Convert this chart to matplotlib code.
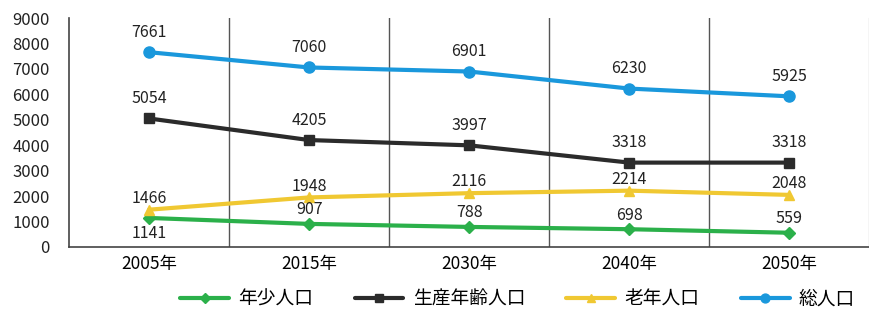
import matplotlib
matplotlib.use("Agg")
import matplotlib.pyplot as plt
from matplotlib.ticker import MultipleLocator

plt.rcParams['font.family'] = ['Noto Sans CJK JP', 'DejaVu Sans']

years = ["2005年", "2015年", "2030年", "2040年", "2050年"]
youth = [1141, 907, 788, 698, 559]
working = [5054, 4205, 3997, 3318, 3318]
elderly = [1466, 1948, 2116, 2214, 2048]
total = [7661, 7060, 6901, 6230, 5925]

names = ["年少人口", "生産年齢人口", "老年人口", "総人口"]
series = [youth, working, elderly, total]
colors = ["#2bb04a", "#2b2b2b", "#f0c832", "#1a98dc"]
markers = ["D", "s", "^", "o"]
msizes = [6, 7, 7, 8]

fig = plt.figure(figsize=(8.7, 3.13), dpi=100)
ax = fig.add_axes([0.0793, 0.211, 0.92, 0.731])

x = list(range(len(years)))
for name, vals, c, m, ms in zip(names, series, colors, markers, msizes):
    ax.plot(x, vals, color=c, marker=m, markersize=ms, linewidth=3, label=name,
            solid_capstyle='round', zorder=3)

def label(vals, dy, below_first=False):
    for i, v in enumerate(vals):
        if below_first and i == 0:
            ax.annotate(str(v), (i, v), xytext=(0, -5), textcoords='offset points',
                        ha='center', va='top', fontsize=11.5, color='#222222')
        else:
            ax.annotate(str(v), (i, v), xytext=(0, dy), textcoords='offset points',
                        ha='center', va='bottom', fontsize=11.5, color='#222222')

label(total, 8)
label(working, 8)
label(elderly, 2)
label(youth, 4, below_first=True)

ax.set_xlim(-0.5, len(years) - 0.5)
ax.set_ylim(0, 9000)
ax.yaxis.set_major_locator(MultipleLocator(1000))
ax.set_xticks(x)
ax.set_xticklabels(years, fontsize=12.5)
ax.tick_params(axis='y', labelsize=12, length=0, pad=14)
ax.tick_params(axis='x', length=0, pad=6)
for lab in ax.get_yticklabels():
    lab.set_color('#222222')

for b in range(1, len(years)):
    ax.axvline(b - 0.5, color='#555555', linewidth=1, zorder=1)

ax.spines['top'].set_visible(False)
ax.spines['right'].set_color('#555555')
ax.spines['left'].set_color('#444444')
ax.spines['bottom'].set_color('#444444')
ax.spines['left'].set_linewidth(1.2)
ax.spines['bottom'].set_linewidth(1.2)

leg = fig.legend(loc='center', bbox_to_anchor=(0.595, 0.045), ncol=4, frameon=False,
                 fontsize=13.5, handlelength=2.6, columnspacing=2.2, handletextpad=0.5,
                 markerscale=0.8)

fig.savefig("out.png", dpi=100)
